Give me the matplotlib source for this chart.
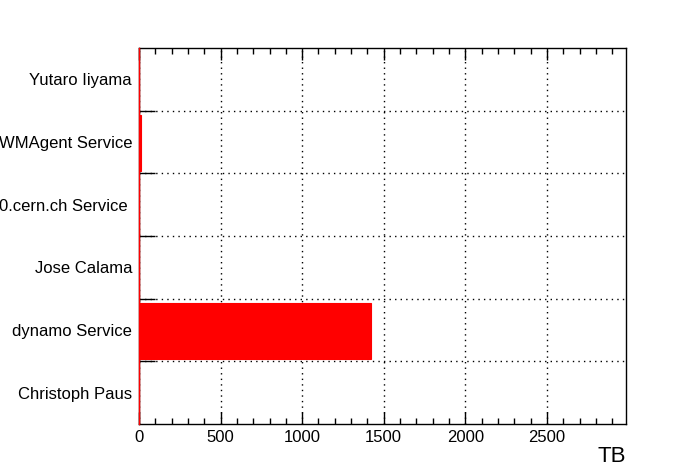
import matplotlib
matplotlib.use('Agg')
import matplotlib.pyplot as plt
from matplotlib.ticker import MultipleLocator, FixedLocator, NullFormatter
import numpy as np

plt.rcParams['font.family'] = ['Liberation Sans', 'DejaVu Sans']

users = ['Christoph Paus', 'dynamo Service', 'Jose Calama',
         '0.cern.ch Service ', 'WMAgent Service', 'Yutaro Iiyama']
usage_tb = [0.5, 1420, 0.5, 0.5, 10, 0.5]
xmax = 2985

fig = plt.figure(figsize=(6.96, 4.72), dpi=100)
ax = fig.add_axes([139 / 696, 48 / 472, 487 / 696, 376 / 472])

pos = np.arange(len(users))
ax.barh(pos - 0.47, usage_tb, height=0.9, align='edge', color='red',
        edgecolor='red', linewidth=0.8, zorder=3)
# red baseline of the histogram along the left axis
ax.axvline(0, color='red', linewidth=1.0, zorder=4, clip_on=False)

ax.set_xlim(0, xmax)
ax.set_ylim(-0.5, len(users) - 0.5)

# x axis ticks
ax.xaxis.set_major_locator(MultipleLocator(500))
ax.xaxis.set_minor_locator(MultipleLocator(100))
ax.tick_params(axis='x', which='major', direction='in', length=8.5, width=1,
               top=True, labelsize=12, pad=4, colors='black')
ax.tick_params(axis='x', which='minor', direction='in', length=4.2, width=1,
               top=True)
ax.set_xticklabels([str(int(v)) if v < xmax else '' for v in ax.get_xticks()])

# y axis: ticks at band boundaries, labels at centers
bounds = np.arange(len(users) - 1) + 0.5
ax.yaxis.set_major_locator(FixedLocator(bounds))
ax.yaxis.set_major_formatter(NullFormatter())
ax.set_yticks(pos, minor=True)
ax.set_yticklabels(users, minor=True)
ax.tick_params(axis='y', which='major', direction='in', length=11.5, width=1)
ax.tick_params(axis='y', which='minor', length=0, labelsize=12, pad=5)

ax.grid(True, which='major', color='black', linestyle=(0, (1, 3)),
        linewidth=1, zorder=1)

for s in ax.spines.values():
    s.set_linewidth(1)
    s.set_color('black')

fig.text(626 / 696, 1 - 457 / 472, 'TB', ha='right', va='center', fontsize=16)

fig.savefig('out.png', dpi=100)
